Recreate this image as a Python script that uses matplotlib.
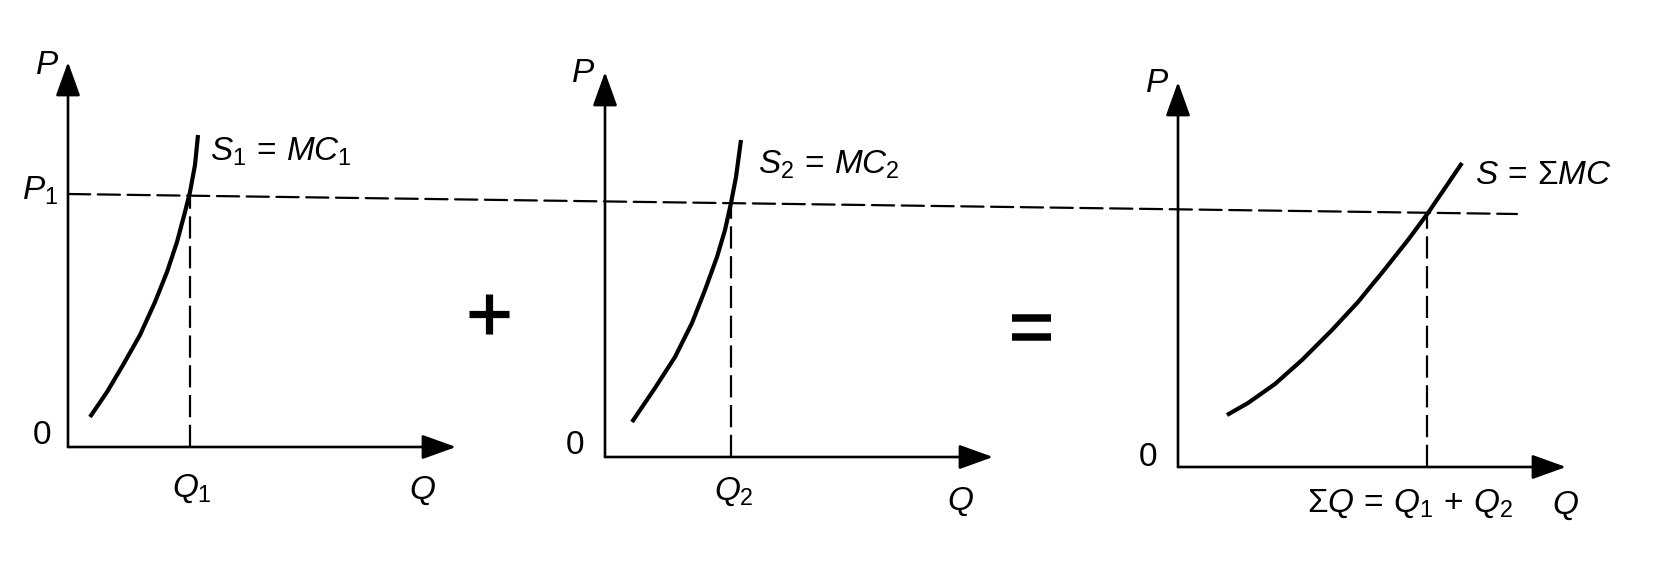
import numpy as np
import matplotlib.pyplot as plt
from matplotlib.patches import ConnectionPatch

plt.rcParams['font.family'] = 'Liberation Sans'
plt.rcParams['mathtext.fontset'] = 'custom'
plt.rcParams['mathtext.it'] = 'Liberation Sans:italic'
plt.rcParams['mathtext.rm'] = 'Liberation Sans'
plt.rcParams['mathtext.sf'] = 'Liberation Sans'

# supply curves (Q, P in axis units, origin at each panel corner)
q_firm1 = [22, 39, 55, 72, 87, 99, 109, 117, 122, 127, 130]
p_firm1 = [30, 55, 82, 112, 145, 175, 205, 235, 255, 282, 312]
q_firm2 = [27, 50, 70, 87, 100, 112, 120, 126, 131, 136]
p_firm2 = [35, 69, 100, 134, 167, 200, 227, 254, 280, 317]
q_market = [49, 70, 97, 124, 154, 180, 207, 230, 250, 267, 284]
p_market = [52, 64, 83, 107, 137, 165, 198, 227, 254, 279, 304]
price = 253          # P1, common to all panels
q_axis_max = 388
p_axis_max = 385

W, H = 1660, 575
fig = plt.figure(figsize=(W / 100, H / 100), dpi=100)
fig.patch.set_facecolor('white')

# panel origins in figure pixels
origins = [(68, 447), (605, 457), (1178, 467)]


def make_panel(ox, oy):
    # axes whose data units are one pixel, with a margin for the labels
    ax = fig.add_axes([(ox - 50) / W, (H - (oy + 60)) / H, 450 / W, 460 / H])
    ax.set_xlim(-50, 400)
    ax.set_ylim(-60, 400)
    ax.axis('off')
    arrow = dict(arrowstyle='-|>,head_length=1.0,head_width=0.36', mutation_scale=21,
                 lw=1.9, color='black', shrinkA=0, shrinkB=0)
    ax.annotate('', xy=(q_axis_max, 0), xytext=(0, 0), arrowprops=arrow)
    ax.annotate('', xy=(0, p_axis_max), xytext=(0, 0), arrowprops=arrow)
    return ax


dash = (0, (10, 3.4))
fs = 24

axes = []
curves = [(q_firm1, p_firm1), (q_firm2, p_firm2), (q_market, p_market)]
for (ox, oy), (q, p) in zip(origins, curves):
    ax = make_panel(ox, oy)
    ax.plot(q, p, color='black', lw=3.0, solid_capstyle='butt', solid_joinstyle='round')
    q_cross = np.interp(price, p, q)
    ax.plot([q_cross, q_cross], [0, price], color='black', lw=1.6, ls=dash)
    axes.append(ax)

ax1, ax2, ax3 = axes

# the common price line running through all three panels
line = ConnectionPatch(xyA=(0, price), coordsA=ax1.transData,
                       xyB=(339, price), coordsB=ax3.transData,
                       color='black', lw=1.6, linestyle=dash)
fig.add_artist(line)

# labels
txt = dict(fontsize=fs, color='black', ha='center', va='center')
ax1.text(-21, 382, r'$P$', **txt)
ax1.text(-28, 256, r'$P_1$', **txt)
ax1.text(-26, 12, r'$0$', **txt)
ax1.text(124, -42, r'$Q_1$', **txt)
ax1.text(354, -44, r'$Q$', **txt)
ax1.text(142, 295, r'$S_1\,=\,MC_1$', fontsize=fs, ha='left', va='center')

ax2.text(-22, 384, r'$P$', **txt)
ax2.text(-30, 11, r'$0$', **txt)
ax2.text(129, -35, r'$Q_2$', **txt)
ax2.text(355, -45, r'$Q$', **txt)
ax2.text(153, 292, r'$S_2\,=\,MC_2$', fontsize=fs, ha='left', va='center')

ax3.text(-21, 383, r'$P$', **txt)
ax3.text(-30, 10, r'$0$', **txt)
ax3.text(129, -37, r'$\Sigma Q\,=\,Q_1\,+\,Q_2$', fontsize=fs, ha='left', va='center')
ax3.text(387, -39, r'$Q$', **txt)
ax3.text(297, 291, r'$S\,=\,\Sigma MC$', fontsize=fs, ha='left', va='center')

# the + and = between panels
bg = fig.add_axes([0, 0, 1, 1], zorder=-1)
bg.set_xlim(0, W)
bg.set_ylim(H, 0)
bg.axis('off')
bg.plot([469, 509], [314, 314], color='black', lw=5.2, solid_capstyle='butt')
bg.plot([489, 489], [294, 334], color='black', lw=5.2, solid_capstyle='butt')
bg.plot([1012, 1051], [318, 318], color='black', lw=5.4, solid_capstyle='butt')
bg.plot([1012, 1051], [336.5, 336.5], color='black', lw=5.4, solid_capstyle='butt')

fig.savefig('out.png', dpi=100)
